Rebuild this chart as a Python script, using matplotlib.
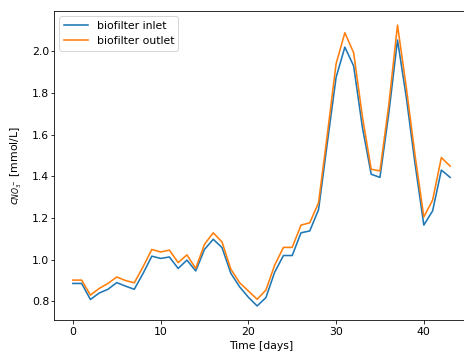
import matplotlib
matplotlib.use("Agg")
import matplotlib.pyplot as plt

# Valores (um ponto por dia)
dias = list(range(44))

entrada = [0.886, 0.886, 0.809, 0.840, 0.858, 0.890, 0.873, 0.858, 0.934, 1.017,
           1.006, 1.013, 0.958, 0.998, 0.946, 1.049, 1.098, 1.058, 0.935, 0.870,
           0.820, 0.778, 0.818, 0.940, 1.020, 1.020, 1.129, 1.138, 1.240, 1.560,
           1.875, 2.020, 1.930, 1.635, 1.410, 1.395, 1.700, 2.054, 1.780, 1.460,
           1.166, 1.234, 1.430, 1.395]

saida = [0.902, 0.902, 0.830, 0.862, 0.886, 0.917, 0.900, 0.889, 0.966, 1.049,
         1.037, 1.046, 0.986, 1.023, 0.958, 1.074, 1.129, 1.085, 0.955, 0.890,
         0.850, 0.810, 0.854, 0.974, 1.059, 1.059, 1.166, 1.177, 1.273, 1.600,
         1.940, 2.089, 1.993, 1.686, 1.434, 1.426, 1.740, 2.126, 1.827, 1.500,
         1.205, 1.286, 1.490, 1.449]

plt.rcParams['font.size'] = 10.9
plt.rcParams['lines.linewidth'] = 1.6
plt.rcParams['ytick.major.pad'] = 1.5
plt.rcParams['legend.handlelength'] = 2.2

fig = plt.figure(figsize=(464 / 72, 355 / 72), dpi=72)
ax = fig.add_axes([0.1164, 0.0986, 0.8944, 0.8704])

ax.plot(dias, entrada, 'C0', label='biofilter inlet')
ax.plot(dias, saida, 'C1', label='biofilter outlet')

ax.set_xlabel('Time [days]', labelpad=4)
ax.set_ylabel(r'$c_{NO_3^-}$ [mmol/L]', labelpad=8)
ax.legend(loc='upper left')

fig.savefig('out.png', dpi=72)
